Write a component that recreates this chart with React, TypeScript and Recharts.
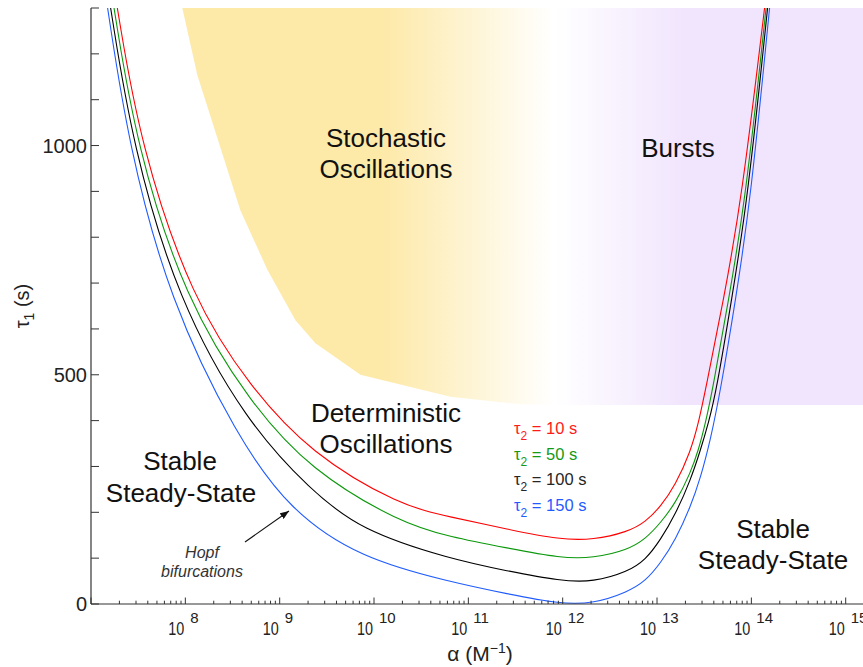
import { ComposedChart, Line, Area, XAxis, YAxis } from "recharts";

// ===== DATA =====
// x = log10(alpha / M^-1), y = tau1 (s)
const DECADES = [7, 8, 9, 10, 11, 12, 13, 14, 15];
const X_LABELS = [8, 9, 10, 11, 12, 13, 14, 15];
const X_MAX = 15.3;
const Y_TICKS = [0, 100, 200, 300, 400, 500, 600, 700, 800, 900, 1000, 1100, 1200, 1300];
const Y_LABELS = [0, 500, 1000];

// Hopf bifurcation curves, one per tau2
const tau2_10 = [
  [7.279, 1300], [7.523, 999], [8.074, 663], [8.689, 473], [9.326, 329], [10.28, 214],
  [10.81, 190], [11.415, 163], [11.977, 140], [12.327, 140], [12.687, 157], [12.878, 179],
  [13.037, 212], [13.196, 260], [13.355, 332], [13.44, 395], [13.514, 467], [13.705, 663],
  [13.896, 881], [14.14, 1300],
];
const tau2_50 = [
  [7.244, 1300], [7.48, 999], [8.0, 663], [8.689, 438], [9.326, 292], [10.28, 177],
  [10.81, 146], [11.415, 122], [11.977, 100], [12.327, 100], [12.687, 118], [12.878, 142],
  [13.037, 177], [13.196, 220], [13.355, 286], [13.44, 336], [13.514, 395], [13.589, 467],
  [13.758, 663], [13.938, 881], [14.156, 1300],
];
const tau2_100 = [
  [7.208, 1300], [7.441, 999], [7.918, 663], [8.654, 395], [9.326, 249], [9.856, 161],
  [10.81, 98], [11.415, 72], [11.977, 50], [12.327, 48], [12.687, 70], [12.878, 96],
  [13.037, 140], [13.196, 196], [13.355, 270], [13.461, 336], [13.546, 395], [13.631, 467],
  [13.79, 663], [13.96, 881], [14.172, 1300],
];
const tau2_150 = [
  [7.176, 1300], [7.399, 999], [7.83, 663], [8.548, 364], [9.113, 203], [9.856, 100],
  [10.81, 48], [11.415, 22], [11.977, 0], [12.327, 1], [12.687, 26], [12.878, 50],
  [13.037, 89], [13.196, 140], [13.355, 212], [13.461, 275], [13.567, 358], [13.674, 467],
  [13.833, 663], [13.992, 881], [14.193, 1300],
];

// lower edge of the stochastic oscillations / bursts region (filled up to the top)
const regionLow = [
  [7.968, 1300], [8.127, 1154], [8.583, 859], [8.87, 729], [9.167, 619], [9.379, 569],
  [9.856, 500], [10.81, 452], [11.521, 436], [11.977, 434], [15.3, 434],
];
const REGION_TOP = 1300;

const SERIES = [
  { tau2: "10", line: "#ff0000", text: "#ff1a1a", points: tau2_10 },
  { tau2: "50", line: "#0b980b", text: "#159a15", points: tau2_50 },
  { tau2: "100", line: "#000000", text: "#262626", points: tau2_100 },
  { tau2: "150", line: "#1f5bff", text: "#1f5bff", points: tau2_150 },
];

// ===== HELPERS =====
const X_TICKS: number[] = [];
DECADES.forEach((d) => {
  for (let k = 1; k <= 9; k++) {
    const v = d + Math.log10(k);
    if (v <= X_MAX) X_TICKS.push(v);
  }
});

const toRows = (pts: number[][]) => pts.map(([a, t]) => ({ a, t }));
const regionRows = regionLow.map(([a, t]) => ({ a, band: [t, REGION_TOP] }));

const AXIS = "#333";
const FONT = "'Liberation Sans', Arial, Helvetica, sans-serif";

const XTick = ({ x, y, payload }: any) => {
  const v = payload.value as number;
  const major = Math.abs(v - Math.round(v)) < 1e-9;
  const label = major && X_LABELS.includes(Math.round(v));
  return (
    <g>
      <line x1={x} x2={x} y1={y} y2={y - (major ? 6.5 : 3.3)} stroke={AXIS} strokeWidth={1} />
      {label && (
        <g fill="#222" fontFamily={FONT}>
          <text x={x - 17} y={y + 31} fontSize={19} textLength={16} lengthAdjust="spacingAndGlyphs">
            10
          </text>
          <text x={x + 5} y={y + 19} fontSize={15}>
            {Math.round(v)}
          </text>
        </g>
      )}
    </g>
  );
};

const YTick = ({ x, y, payload }: any) => {
  const v = payload.value as number;
  return (
    <g>
      <line x1={x} x2={x + 8} y1={y} y2={y} stroke={AXIS} strokeWidth={1} />
      {Y_LABELS.includes(v) && (
        <text x={x - 4} y={y + 7} textAnchor="end" fontSize={20} fill="#222" fontFamily={FONT}>
          {v}
        </text>
      )}
    </g>
  );
};

// ===== COMPONENT =====
export default function App() {
  return (
    <div
      style={{
        position: "absolute",
        left: 0,
        top: 0,
        width: 863,
        height: 667,
        overflow: "hidden",
        background: "#fff",
        fontFamily: FONT,
      }}
    >
      <ComposedChart width={874} height={667} margin={{ top: 8, right: 0, bottom: 0, left: 0 }}>
        <defs>
          <linearGradient id="regionFill" gradientUnits="userSpaceOnUse" x1={383} y1={0} x2={683} y2={0}>
            <stop offset="0" stopColor="#fde9a8" />
            <stop offset="0.57" stopColor="#ffffff" />
            <stop offset="1" stopColor="#f1e5fd" />
          </linearGradient>
        </defs>

        <XAxis
          type="number"
          dataKey="a"
          domain={[7, X_MAX]}
          ticks={X_TICKS}
          interval={0}
          allowDataOverflow
          height={63}
          tick={<XTick />}
          tickLine={false}
          tickSize={0}
          tickMargin={0}
          axisLine={{ stroke: AXIS, strokeWidth: 1.2 }}
        />
        <YAxis
          type="number"
          domain={[0, 1300]}
          ticks={Y_TICKS}
          interval={0}
          allowDataOverflow
          width={91}
          tick={<YTick />}
          tickLine={false}
          tickSize={0}
          tickMargin={0}
          axisLine={{ stroke: AXIS, strokeWidth: 1.2 }}
        />

        {/* stochastic oscillations -> bursts region */}
        <Area
          data={regionRows}
          dataKey="band"
          type="linear"
          stroke="none"
          fill="url(#regionFill)"
          fillOpacity={1}
          isAnimationActive={false}
          activeDot={false}
        />

        {SERIES.map((s) => (
          <Line
            key={s.tau2}
            data={toRows(s.points)}
            dataKey="t"
            type="basis"
            stroke={s.line}
            strokeWidth={1.1}
            dot={false}
            activeDot={false}
            isAnimationActive={false}
          />
        ))}
      </ComposedChart>

      {/* annotations */}
      <svg
        width={863}
        height={667}
        style={{ position: "absolute", left: 0, top: 0, pointerEvents: "none" }}
        fontFamily={FONT}
      >
        <defs>
          <marker id="arrowHead" markerUnits="userSpaceOnUse" markerWidth={9} markerHeight={7} refX={9} refY={3.5} orient="auto">
            <path d="M0,0 L9,3.5 L0,7 z" fill="#111" />
          </marker>
        </defs>

        <g fontSize={26} fill="#111" textAnchor="middle">
          <text x={386} y={147}>Stochastic</text>
          <text x={386} y={178}>Oscillations</text>
          <text x={678} y={157}>Bursts</text>
          <text x={386} y={422}>Deterministic</text>
          <text x={386} y={453}>Oscillations</text>
          <text x={180} y={470}>Stable</text>
          <text x={181} y={502}>Steady-State</text>
          <text x={773} y={538}>Stable</text>
          <text x={773} y={569}>Steady-State</text>
        </g>

        <g fontSize={16} fill="#333" fontStyle="italic" textAnchor="middle">
          <text x={202} y={558}>Hopf</text>
          <text x={202} y={577}>bifurcations</text>
        </g>
        <line x1={245} y1={542} x2={289} y2={511} stroke="#111" strokeWidth={1.1} markerEnd="url(#arrowHead)" />

        {SERIES.map((s, i) => (
          <text key={s.tau2} x={514} y={434 + i * 25.6} fontSize={16.5} fill={s.text}>
            τ<tspan dy={6} fontSize={12}>2</tspan>
            <tspan dy={-6}>{` = ${s.tau2} s`}</tspan>
          </text>
        ))}

        <text x={480} y={661} textAnchor="middle" fontSize={21} fill="#222">
          α (M<tspan dy={-8} fontSize={14}>−1</tspan>
          <tspan dy={8}>)</tspan>
        </text>
        <text transform="translate(29,306) rotate(-90)" textAnchor="middle" fontSize={20} fill="#222">
          τ<tspan dy={5} fontSize={14}>1</tspan>
          <tspan dy={-5}> (s)</tspan>
        </text>
      </svg>
    </div>
  );
}
